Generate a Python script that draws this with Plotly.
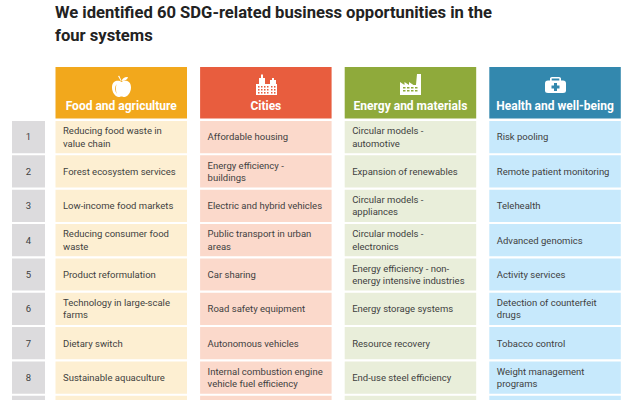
import re
import plotly.graph_objects as go

W, H = 631, 400
title_lines = ["We identified 60 SDG-related business opportunities in the", "four systems"]
rows = [1, 2, 3, 4, 5, 6, 7, 8, 9]
row_labels = ["1", "2", "3", "4", "5", "6", "7", "8", ""]
systems = ["Food and agriculture", "Cities", "Energy and materials", "Health and well-being"]
food = ["Reducing food waste in<br>value chain", "Forest ecosystem services", "Low-income food markets",
        "Reducing consumer food<br>waste", "Product reformulation", "Technology in large-scale<br>farms",
        "Dietary switch", "Sustainable aquaculture", ""]
cities = ["Affordable housing", "Energy efficiency -<br>buildings", "Electric and hybrid vehicles",
          "Public transport in urban<br>areas", "Car sharing", "Road safety equipment",
          "Autonomous vehicles", "Internal combustion engine<br>vehicle fuel efficiency", ""]
energy = ["Circular models -<br>automotive", "Expansion of renewables", "Circular models -<br>appliances",
          "Circular models -<br>electronics", "Energy efficiency - non-<br>energy intensive industries",
          "Energy storage systems", "Resource recovery", "End-use steel efficiency", ""]
health = ["Risk pooling", "Remote patient monitoring", "Telehealth", "Advanced genomics", "Activity services",
          "Detection of counterfeit<br>drugs", "Tobacco control", "Weight management<br>programs", ""]
columns = [food, cities, energy, health]
header_colors = ["#F2A81C", "#E85D3E", "#8FAA3B", "#3388AE"]
cell_colors = ["#FDEFD2", "#FBD9CB", "#E9EEDA", "#C7E9FC"]
number_color = "#DCDBDD"
text_color = "#3F3F3F"

# scale: one column = 144.6 px, one row = 34.4 px
CX0, CP, RY1, RP = 121.25, 144.6, 137.1, 34.35
xr = [(0 - CX0) / CP, (W - CX0) / CP]
yr = [1 + (H - RY1) / RP, 1 + (0 - RY1) / RP]
col_w = 131.5 / CP
row_h = 32.2 / RP
num_x = (28.5 - CX0) / CP
num_w = 33 / CP
head_top = 1 + (67 - RY1) / RP
head_bot = 1 + (118.5 - RY1) / RP
head_text = 1 + (107.0 - RY1) / RP
pad = (col_w / 2) - 7.5 / CP
label_nudge = 1.0 / RP

fig = go.Figure()
fig.add_bar(x=[num_x] * len(rows), y=[row_h] * len(rows), base=[r - row_h / 2 for r in rows], width=num_w,
            marker=dict(color=number_color, line_width=0))
fig.add_scatter(x=[num_x] * len(rows), y=[r + label_nudge for r in rows], mode="text", text=row_labels,
                textposition="middle center", textfont=dict(family="Roboto", size=9.5, color=text_color))
for i, col in enumerate(columns):
    fig.add_bar(x=[i] * len(rows), y=[row_h] * len(rows), base=[r - row_h / 2 for r in rows], width=col_w,
                marker=dict(color=cell_colors[i], line_width=0))
    fig.add_bar(x=[i], y=[head_bot - head_top], base=[head_top], width=col_w,
                marker=dict(color=header_colors[i], line_width=0))
    fig.add_scatter(x=[i - pad] * len(rows), y=[r + label_nudge for r in rows], mode="text", text=col,
                    textposition="middle right", textfont=dict(family="Roboto", size=9.5, color=text_color))
    fig.add_scatter(x=[i], y=[head_text], mode="text", text=["<b>" + systems[i] + "</b>"],
                    textposition="middle center", textfont=dict(family="Roboto", size=12, color="white"))


def p(s):
    out, isx = [], True
    for t in s.split():
        if re.fullmatch(r"[A-Za-z]", t):
            out.append(t)
        else:
            v = float(t)
            out.append(f"{v / W:.5f}" if isx else f"{1 - v / H:.5f}")
            isx = not isx
    return " ".join(out)


def icon(path, color="white"):
    return dict(type="path", xref="paper", yref="paper", path=p(path), fillcolor=color, line_width=0, layer="above")


def rect(x0, y0, x1, y1, color="white"):
    return icon(f"M {x0} {y0} L {x1} {y0} L {x1} {y1} L {x0} {y1} Z", color)


shapes = [
    # apple
    icon("M 121.5 82 C 124 80 131 80 131 87.5 C 131 93 127 97 124.5 97 C 123 97 122.5 96.4 121.5 96.4 "
         "C 120.5 96.4 120 97 118.5 97 C 116 97 112 93 112 87.5 C 112 80 119 80 121.5 82 Z"),
    icon("M 121.7 81 C 122 78.5 124.5 76.7 128 77 C 127.5 79.5 125 81 121.7 81 Z"),
    icon("M 118 76 L 119.3 75.8 L 121.6 81 L 120.8 81 Z"),
    icon("M 116.5 84 C 114.5 87 114.7 91 116.8 94 C 115.7 90.5 115.7 87.5 116.5 84 Z", header_colors[0]),
    # city
    rect(256, 84, 277, 95), rect(259, 78, 265, 95), rect(261, 74.5, 263, 78), rect(270, 80, 276, 95),
    rect(272, 78, 274, 80),
    # factory
    icon("M 400 95 L 400 82 L 404.5 85 L 404.5 82 L 409 85 L 409 82 L 413.5 85 L 416 85 L 417 74 L 421 74 L 421 95 Z"),
    # medical case
    icon("M 548 80.5 L 563 80.5 Q 566 80.5 566 83.5 L 566 90.5 Q 566 93 563 93 L 548 93 Q 545 93 545 90.5 "
         "L 545 83.5 Q 545 80.5 548 80.5 Z"),
    icon("M 550 81 L 550 78.5 Q 550 77 552 77 L 559 77 Q 561 77 561 78.5 L 561 81 L 559.3 81 L 559.3 78.6 "
         "L 551.7 78.6 L 551.7 81 Z"),
    rect(554, 83, 557, 91, header_colors[3]), rect(551.5, 85.5, 559.5, 88.5, header_colors[3]),
]
for yy in (86, 89, 92):
    for xx in (258, 261, 264, 267, 271, 274):
        shapes.append(rect(xx, yy, xx + 1.5, yy + 1.6, header_colors[1]))
for yy in (87, 90):
    for xx in (403, 407, 411, 415):
        shapes.append(rect(xx, yy, xx + 2.5, yy + 1.5, header_colors[2]))

annotations = [
    dict(text="<b>" + line + "</b>", xref="paper", yref="paper", x=54 / W, y=1 - py / H, xanchor="left",
         yanchor="middle", showarrow=False, align="left", borderpad=0,
         font=dict(family="Roboto", size=16.6, color="#222222"))
    for line, py in zip(title_lines, (12, 35))
]

fig.update_layout(
    width=W, height=H, margin=dict(l=0, r=0, t=0, b=0), showlegend=False, barmode="overlay",
    paper_bgcolor="white", plot_bgcolor="white", hovermode=False, shapes=shapes, annotations=annotations,
    xaxis=dict(range=xr, visible=False, fixedrange=True),
    yaxis=dict(range=yr, visible=False, fixedrange=True),
)
fig.write_html("out.html", config=dict(displayModeBar=False),
               post_script="document.body.style.margin='0';")
